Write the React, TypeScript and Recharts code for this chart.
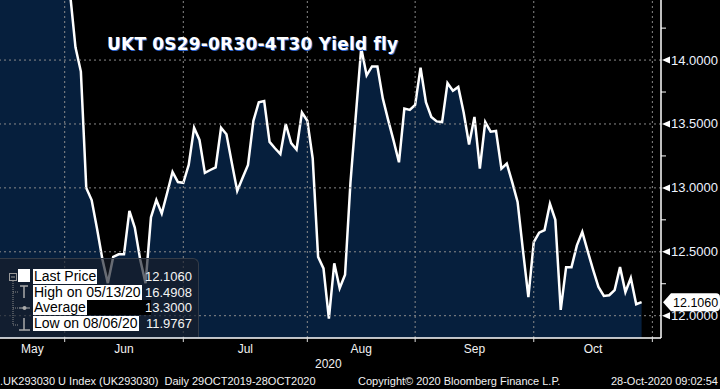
import { ComposedChart, Area, XAxis, YAxis, ReferenceLine } from 'recharts';

// daily closes of the fly, one per trading day, starting 13 May 2020
const flyValues = [
  16.49, 16.3, 16.1, 15.95, 15.8, 15.6, 15.45, 15.3, 15.2, 15.05,
  14.95, 14.8, 14.65, 14.52, 14.1, 13.91, 13.0, 12.905, 12.68, 12.44,
  12.255, 12.46, 12.48, 12.48, 12.82, 12.69, 12.44, 12.255, 12.77, 12.905,
  12.8, 12.96, 13.125, 13.046, 13.04, 13.18, 13.47, 13.375, 13.117, 13.14,
  13.16, 13.47, 13.42, 13.195, 12.976, 13.08, 13.18, 13.525, 13.67, 13.68,
  13.36, 13.31, 13.265, 13.5, 13.35, 13.3, 13.59, 13.525, 13.23, 12.46,
  12.37, 11.9767, 12.41, 12.215, 12.32, 13.04, 13.57, 14.095, 13.88, 13.95,
  13.95, 13.7, 13.53, 13.37, 13.2, 13.62, 13.61, 13.65, 13.94, 13.67,
  13.555, 13.52, 13.515, 13.82, 13.76, 13.79, 13.59, 13.34, 13.555, 13.15,
  13.515, 13.44, 13.445, 13.15, 13.19, 13.045, 12.89, 12.51, 12.145, 12.575,
  12.65, 12.67, 12.875, 12.75, 12.045, 12.38, 12.38, 12.55, 12.655, 12.505,
  12.36, 12.225, 12.155, 12.16, 12.2, 12.38, 12.185, 12.295, 12.09, 12.106,
];

// month boundaries (trading day index) and label positions
const monthStarts = [12, 34, 57, 77, 99, 121];
const monthMids = [6, 23, 45.5, 67, 88, 110];
const monthNames = ['May', 'Jun', 'Jul', 'Aug', 'Sep', 'Oct'];

const yMajor = [12, 12.5, 13, 13.5, 14];
const yMinor = [12.25, 12.75, 13.25, 13.75, 14.25];
const lastPrice = 12.106;

const legendRows = [
  { label: 'Last Price', value: '12.1060' },
  { label: 'High on 05/13/20', value: '16.4908' },
  { label: 'Average', value: '13.3000' },
  { label: 'Low on 08/06/20', value: '11.9767' },
];

const data = flyValues.map((v, i) => ({ day: i, v }));

const FONT = '"Liberation Sans", Arial, sans-serif';

function MonthTick(props: any) {
  const { x, y, payload } = props;
  const b = monthStarts.indexOf(payload.value);
  if (b >= 0) {
    return <line x1={x} x2={x} y1={y} y2={y + 4} stroke="#ddd" strokeWidth={1} />;
  }
  const m = monthMids.indexOf(payload.value);
  return (
    <text x={x} y={y + 15} textAnchor="middle" fill="#f2f2f2" fontSize={12} fontFamily={FONT}>
      {monthNames[m]}
    </text>
  );
}

function PriceTick(props: any) {
  const { x, y, payload } = props;
  if (yMajor.includes(payload.value)) {
    return (
      <g>
        <polygon points={`${x + 1},${y} ${x + 9},${y - 3.5} ${x + 9},${y + 3.5}`} fill="#fff" />
        <text x={x + 10} y={y + 4.5} fill="#eef3ff" fontSize={13} fontFamily={FONT}>
          {payload.value.toFixed(4)}
        </text>
      </g>
    );
  }
  return <line x1={x} x2={x + 5} y1={y} y2={y} stroke="#fff" strokeWidth={1} />;
}

function LastTag(props: any) {
  const vb = props.viewBox;
  const x0 = vb.x + vb.width + 2;
  const y = vb.y;
  return (
    <g>
      <path
        d={`M${x0},${y} L${x0 + 8},${y - 9} L${716},${y - 9} Q720,${y - 9} 720,${y - 5} L720,${y + 5} Q720,${y + 9} 716,${y + 9} L${x0 + 8},${y + 9} Z`}
        fill="#fff"
      />
      <text x={x0 + 10} y={y + 4.5} fill="#000" fontSize={12.5} fontFamily={FONT}>
        {lastPrice.toFixed(4)}
      </text>
    </g>
  );
}

export default function App() {
  return (
    <div style={{ position: 'fixed', left: 0, top: 0, width: 720, height: 389, background: '#000', overflow: 'hidden' }}>
      <ComposedChart width={720} height={389} data={data} margin={{ top: 0, right: 0, bottom: 0, left: 0 }}>
        <XAxis
          dataKey="day"
          type="number"
          domain={[0, 122.6]}
          allowDataOverflow
          ticks={[6, 12, 23, 34, 45.5, 57, 67, 77, 88, 99, 110, 121]}
          interval={0}
          tickSize={0}
          tickMargin={0}
          tickLine={false}
          tick={<MonthTick />}
          axisLine={{ stroke: '#fff', strokeWidth: 1.5 }}
          height={51}
        />
        <YAxis
          orientation="right"
          type="number"
          domain={[11.8255, 14.47]}
          allowDataOverflow
          ticks={[...yMajor, ...yMinor]}
          interval={0}
          tickSize={0}
          tickMargin={0}
          tickLine={false}
          tick={<PriceTick />}
          axisLine={{ stroke: '#fff', strokeWidth: 1.5 }}
          width={59}
        />
        <Area
          type="linear"
          dataKey="v"
          stroke="#fff"
          strokeWidth={2.5}
          fill="#061f3d"
          fillOpacity={1}
          baseValue="dataMin"
          dot={false}
          activeDot={false}
          isAnimationActive={false}
        />
        {yMajor.map((v) => (
          <ReferenceLine key={'h' + v} y={v} stroke="#8a8a8a" strokeDasharray="2 3" strokeWidth={1} />
        ))}
        {monthStarts.map((d) => (
          <ReferenceLine key={'v' + d} x={d} stroke="#8a8a8a" strokeDasharray="2 3" strokeWidth={1} />
        ))}
        <ReferenceLine y={lastPrice} stroke="none" label={(p: any) => <LastTag viewBox={p.viewBox} />} />
      </ComposedChart>

      <div
        style={{
          position: 'absolute', left: 107, top: 36, color: '#fff', fontFamily: '"DejaVu Sans", sans-serif',
          fontWeight: 'bold', fontSize: 17, lineHeight: '17px', letterSpacing: 0.2, whiteSpace: 'nowrap',
          textShadow: '1px 1px 0 #2f63c8',
        }}
      >
        UKT 0S29-0R30-4T30 Yield fly
      </div>

      <div
        style={{
          position: 'absolute', left: 0, top: 258, width: 198, height: 78, background: 'rgba(24,30,42,0.66)',
          borderTop: '1px solid #333b47', borderRight: '1px solid #333b47', borderTopRightRadius: 6,
          fontFamily: FONT,
        }}
      >
        <svg width={32} height={78} style={{ position: 'absolute', left: 0, top: 0 }}>
          <rect x={9.5} y={14.5} width={7} height={7} fill="none" stroke="#999" />
          <line x1={11} x2={15} y1={18} y2={18} stroke="#999" />
          <line x1={13} x2={13} y1={22} y2={66} stroke="#888" strokeDasharray="1 1" />
          <line x1={13} x2={18} y1={33} y2={33} stroke="#888" strokeDasharray="1 1" />
          <line x1={13} x2={18} y1={49} y2={49} stroke="#888" strokeDasharray="1 1" />
          <line x1={13} x2={18} y1={66} y2={66} stroke="#888" strokeDasharray="1 1" />
          <rect x={18} y={10} width={12} height={13} fill="#fff" />
          <line x1={20} x2={28} y1={27} y2={27} stroke="#aaa" strokeWidth={1.5} />
          <line x1={24} x2={24} y1={27} y2={39} stroke="#aaa" strokeWidth={1.5} />
          <line x1={19} x2={30} y1={49} y2={49} stroke="#aaa" strokeWidth={1} />
          <circle cx={24.5} cy={49} r={2} fill="#aaa" />
          <line x1={24} x2={24} y1={59} y2={71} stroke="#aaa" strokeWidth={1.5} />
          <line x1={19} x2={30} y1={71} y2={71} stroke="#aaa" strokeWidth={1.5} />
        </svg>
        {legendRows.map((r, i) => (
          <div
            key={r.label}
            style={{ position: 'absolute', left: 33, top: 10 + i * 15.7, height: 15, display: 'flex', alignItems: 'center' }}
          >
            <span style={{ background: '#fff', color: '#000', fontSize: 14, lineHeight: '15px', padding: '0 1px' }}>{r.label}</span>
            {r.label === 'Average' && <span style={{ background: '#000', width: 64, height: 15, display: 'inline-block' }} />}
          </div>
        ))}
        {legendRows.map((r, i) => (
          <div
            key={r.value}
            style={{ position: 'absolute', right: 6, top: 10 + i * 15.7, lineHeight: '15px', fontSize: 13, color: '#f4f4f4' }}
          >
            {r.value}
          </div>
        ))}
      </div>

      <div style={{ position: 'absolute', left: 0, top: 357, width: 661, textAlign: 'center', color: '#f2f2f2', fontFamily: FONT, fontSize: 12 }}>
        <span style={{ position: 'absolute', left: 315 }}>2020</span>
      </div>
      <div style={{ position: 'absolute', left: 0, top: 375, width: 720, color: '#f2f2f2', fontFamily: FONT, fontSize: 11, whiteSpace: 'nowrap' }}>
        <span style={{ position: 'absolute', left: 0 }}>.UK293030 U Index (UK293030)&nbsp;&nbsp;Daily 29OCT2019-28OCT2020</span>
        <span style={{ position: 'absolute', left: 358 }}>Copyright© 2020 Bloomberg Finance L.P.</span>
        <span style={{ position: 'absolute', right: 2 }}>28-Oct-2020 09:02:54</span>
      </div>
    </div>
  );
}
